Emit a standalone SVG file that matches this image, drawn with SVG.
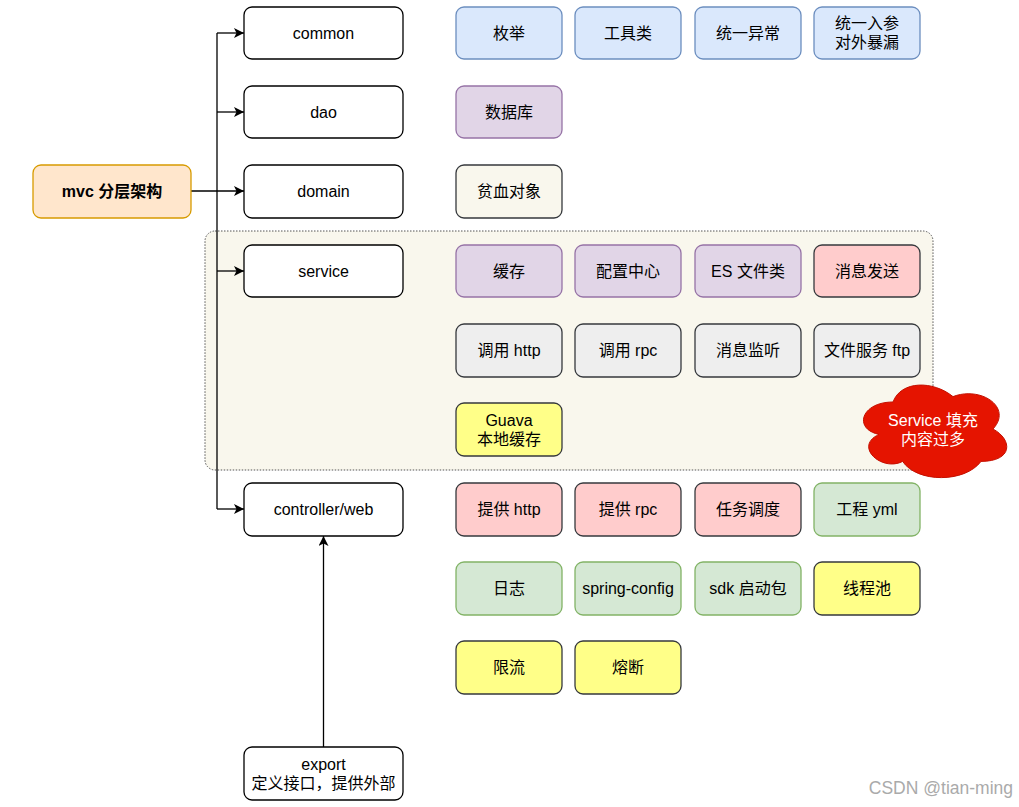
<svg xmlns="http://www.w3.org/2000/svg" width="1019" height="807" viewBox="0 0 1019 807">
<style>
text{font-family:"Liberation Sans","Noto Sans CJK SC",sans-serif;font-size:16px;fill:#000;text-anchor:middle;dominant-baseline:central}
.n rect{stroke-width:1.3}
.w{fill:#fff;stroke:#000}
.b{fill:#dae8fc;stroke:#6c8ebf}
.p{fill:#e1d5e7;stroke:#9673a6}
.g{fill:#f9f7ed;stroke:#36393d}
.r{fill:#ffcccc;stroke:#36393d}
.e{fill:#eeeeee;stroke:#36393d}
.y{fill:#ffff88;stroke:#36393d}
.gr{fill:#d5e8d4;stroke:#82b366}
.o{fill:#ffe6cc;stroke:#d79b00}
.c path{fill:none;stroke:#000;stroke-width:1.3}
</style>
<defs>
<marker id="a" viewBox="0 0 10 10" refX="10" refY="5" markerWidth="10" markerHeight="10" markerUnits="userSpaceOnUse" orient="auto">
<path d="M0,0 L10,5 L0,10 L2.5,5 Z" fill="#000"/>
</marker>
</defs>
<rect width="1019" height="807" fill="#fff"/>
<g id="service-area">
<rect x="205" y="231" width="728" height="239" rx="10" fill="#f9f7ed" stroke="#555" stroke-width="1" stroke-dasharray="1.5 1.5"/>
</g>
<g class="c" id="connectors">
<path d="M217,33 L217,509"/>
<path d="M217,33 L244,33" marker-end="url(#a)"/>
<path d="M217,112 L244,112" marker-end="url(#a)"/>
<path d="M191,191 L244,191" marker-end="url(#a)"/>
<path d="M217,271 L244,271" marker-end="url(#a)"/>
<path d="M217,509 L244,509" marker-end="url(#a)"/>
<path d="M323.5,747 L323.5,536" marker-end="url(#a)"/>
</g>
<g class="n">
<g id="mvc"><rect class="o" x="33" y="165" width="158" height="53" rx="8"/><text x="112" y="191.5" font-weight="bold">mvc 分层架构</text></g>
<g id="common"><rect class="w" x="244" y="7" width="159" height="52" rx="8"/><text x="323.5" y="33">common</text></g>
<g id="dao"><rect class="w" x="244" y="86" width="159" height="52" rx="8"/><text x="323.5" y="112">dao</text></g>
<g id="domain"><rect class="w" x="244" y="165" width="159" height="53" rx="8"/><text x="323.5" y="191.5">domain</text></g>
<g id="service"><rect class="w" x="244" y="245" width="159" height="52" rx="8"/><text x="323.5" y="271">service</text></g>
<g id="controller"><rect class="w" x="244" y="483" width="159" height="53" rx="8"/><text x="323.5" y="509">controller/web</text></g>
<g id="export"><rect class="w" x="244" y="747" width="159" height="53" rx="8"/><text x="323.5" y="764">export</text><text x="323.5" y="783">定义接口，提供外部</text></g>

<g id="enum"><rect class="b" x="456" y="7" width="106" height="52" rx="8"/><text x="509" y="33">枚举</text></g>
<g id="tools"><rect class="b" x="575" y="7" width="106" height="52" rx="8"/><text x="628" y="33">工具类</text></g>
<g id="exception"><rect class="b" x="695" y="7" width="106" height="52" rx="8"/><text x="748" y="33">统一异常</text></g>
<g id="params"><rect class="b" x="814" y="7" width="106" height="52" rx="8"/><text x="867" y="23.5">统一入参</text><text x="867" y="42.5">对外暴漏</text></g>

<g id="db"><rect class="p" x="456" y="86" width="106" height="52" rx="8"/><text x="509" y="112">数据库</text></g>
<g id="anemic"><rect class="g" x="456" y="165" width="106" height="53" rx="8"/><text x="509" y="191.5">贫血对象</text></g>

<g id="cache"><rect class="p" x="456" y="245" width="106" height="52" rx="8"/><text x="509" y="271">缓存</text></g>
<g id="config"><rect class="p" x="575" y="245" width="106" height="52" rx="8"/><text x="628" y="271">配置中心</text></g>
<g id="es"><rect class="p" x="695" y="245" width="106" height="52" rx="8"/><text x="748" y="271">ES 文件类</text></g>
<g id="msgsend"><rect class="r" x="814" y="245" width="106" height="52" rx="8"/><text x="867" y="271">消息发送</text></g>

<g id="callhttp"><rect class="e" x="456" y="324" width="106" height="53" rx="8"/><text x="509" y="350.5">调用 http</text></g>
<g id="callrpc"><rect class="e" x="575" y="324" width="106" height="53" rx="8"/><text x="628" y="350.5">调用 rpc</text></g>
<g id="msglisten"><rect class="e" x="695" y="324" width="106" height="53" rx="8"/><text x="748" y="350.5">消息监听</text></g>
<g id="ftp"><rect class="e" x="814" y="324" width="106" height="53" rx="8"/><text x="867" y="350.5">文件服务 ftp</text></g>

<g id="guava"><rect class="y" x="456" y="403" width="106" height="53" rx="8"/><text x="509" y="420">Guava</text><text x="509" y="439">本地缓存</text></g>

<g id="cloud"><path d="M893,402 C861,402 853,429 879,434.4 C853,446.3 882,472.2 902.6,461.4 C917,483 965,483 981,461.4 C1013,461.4 1013,439.8 993,429 C1013,407.4 981,385.8 953,396.6 C933,380.4 901,380.4 893,402 Z" fill="#e51400" stroke="#c41000" stroke-width="1"/><text x="933" y="420" style="fill:#fff">Service 填充</text><text x="933" y="439" style="fill:#fff">内容过多</text></g>

<g id="provhttp"><rect class="r" x="456" y="483" width="106" height="53" rx="8"/><text x="509" y="509.5">提供 http</text></g>
<g id="provrpc"><rect class="r" x="575" y="483" width="106" height="53" rx="8"/><text x="628" y="509.5">提供 rpc</text></g>
<g id="schedule"><rect class="r" x="695" y="483" width="106" height="53" rx="8"/><text x="748" y="509.5">任务调度</text></g>
<g id="yml"><rect class="gr" x="814" y="483" width="106" height="53" rx="8"/><text x="867" y="509.5">工程 yml</text></g>

<g id="log"><rect class="gr" x="456" y="562" width="106" height="53" rx="8"/><text x="509" y="588.5">日志</text></g>
<g id="springconfig"><rect class="gr" x="575" y="562" width="106" height="53" rx="8"/><text x="628" y="588.5">spring-config</text></g>
<g id="sdk"><rect class="gr" x="695" y="562" width="106" height="53" rx="8"/><text x="748" y="588.5">sdk 启动包</text></g>
<g id="threadpool"><rect class="y" x="814" y="562" width="106" height="53" rx="8"/><text x="867" y="588.5">线程池</text></g>

<g id="ratelimit"><rect class="y" x="456" y="641" width="106" height="53" rx="8"/><text x="509" y="667.5">限流</text></g>
<g id="breaker"><rect class="y" x="575" y="641" width="106" height="53" rx="8"/><text x="628" y="667.5">熔断</text></g>
</g>
<text x="1013" y="788" style="text-anchor:end;fill:#aaa;font-size:17.5px">CSDN @tian-ming</text>
</svg>
